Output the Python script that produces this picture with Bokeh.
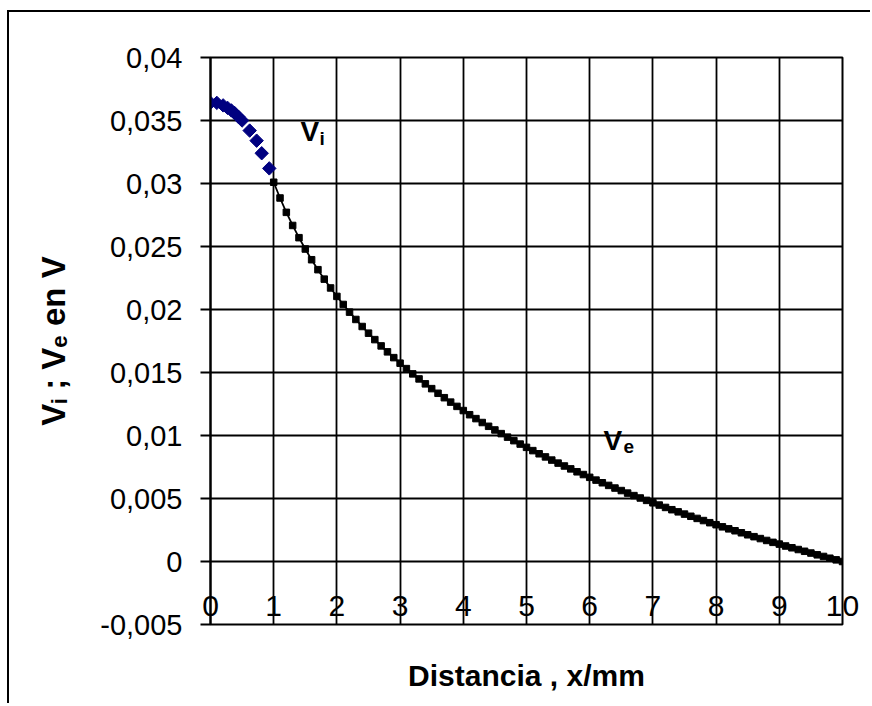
import numpy as np
from bokeh.plotting import figure
from bokeh.models import FixedTicker, Label, Range1d
from bokeh.embed import file_html
from bokeh.resources import INLINE

# ---------------- data ----------------
vi_x = [0.0, 0.1, 0.2, 0.27, 0.33, 0.38, 0.44, 0.5, 0.62, 0.73, 0.81, 0.93]
vi_y = [0.0364, 0.0364, 0.0362, 0.0360, 0.0358, 0.0356, 0.0353, 0.0350,
        0.0342, 0.0334, 0.0324, 0.0312]

ve_x = [1.0, 1.1, 1.2, 1.3, 1.4, 1.5, 1.6, 1.7, 1.8, 1.9,
        2.0, 2.1, 2.2, 2.3, 2.4, 2.5, 2.6, 2.7, 2.8, 2.9,
        3.0, 3.1, 3.2, 3.3, 3.4, 3.5, 3.6, 3.7, 3.8, 3.9,
        4.0, 4.1, 4.2, 4.3, 4.4, 4.5, 4.6, 4.7, 4.8, 4.9,
        5.0, 5.1, 5.2, 5.3, 5.4, 5.5, 5.6, 5.7, 5.8, 5.9,
        6.0, 6.1, 6.2, 6.3, 6.4, 6.5, 6.6, 6.7, 6.8, 6.9,
        7.0, 7.1, 7.2, 7.3, 7.4, 7.5, 7.6, 7.7, 7.8, 7.9,
        8.0, 8.1, 8.2, 8.3, 8.4, 8.5, 8.6, 8.7, 8.8, 8.9,
        9.0, 9.1, 9.2, 9.3, 9.4, 9.5, 9.6, 9.7, 9.8, 9.9, 10.0]
ve_y = [0.0301, 0.02885, 0.02771, 0.02667, 0.0257, 0.0248, 0.02395, 0.02316, 0.02241, 0.02171,
        0.02104, 0.0204, 0.01979, 0.01921, 0.01865, 0.01812, 0.01761, 0.01711, 0.01664, 0.01618,
        0.01574, 0.01531, 0.01489, 0.01449, 0.0141, 0.01372, 0.01335, 0.013, 0.01265, 0.01231,
        0.01198, 0.01165, 0.01134, 0.01103, 0.01073, 0.01044, 0.01015, 0.00987, 0.00959, 0.00932,
        0.00906, 0.0088, 0.00855, 0.0083, 0.00805, 0.00781, 0.00758, 0.00735, 0.00712, 0.0069,
        0.00668, 0.00646, 0.00625, 0.00604, 0.00583, 0.00563, 0.00543, 0.00523, 0.00504, 0.00485,
        0.00466, 0.00448, 0.00429, 0.00411, 0.00394, 0.00376, 0.00359, 0.00342, 0.00325, 0.00308,
        0.00292, 0.00275, 0.00259, 0.00244, 0.00228, 0.00212, 0.00197, 0.00182, 0.00167, 0.00152,
        0.00138, 0.00123, 0.00109, 0.00095, 0.00081, 0.00067, 0.00053, 0.0004, 0.00026, 0.00013, 0.0]

x_ticks = [0, 1, 2, 3, 4, 5, 6, 7, 8, 9, 10]
x_tick_labels = ["0", "1", "2", "3", "4", "5", "6", "7", "8", "9", "10"]
y_ticks = [-0.005, 0, 0.005, 0.01, 0.015, 0.02, 0.025, 0.03, 0.035, 0.04]
y_tick_labels = ["-0,005", "0", "0,005", "0,01", "0,015", "0,02", "0,025", "0,03", "0,035", "0,04"]

x_title = "Distancia , x/mm"
y_title = "V\u1d62 ; V\u2091 en V"

# ---------------- layout / style ----------------
X0, X1 = 0, 10
Y0, Y1 = -0.005, 0.04
FRAME_L, FRAME_R, FRAME_T, FRAME_B = 210, 842, 57, 624   # page pixels
FONT = "Liberation Sans"

def dx(px):
    return X0 + (px - FRAME_L) / (FRAME_R - FRAME_L) * (X1 - X0)

def dy(py):
    return Y0 + (FRAME_B - py) / (FRAME_B - FRAME_T) * (Y1 - Y0)

# canvas starts at page (9, 12)
p = figure(width=863, height=693,
           x_range=Range1d(X0, X1), y_range=Range1d(Y0, Y1),
           output_backend="svg", toolbar_location=None,
           min_border_left=201, min_border_right=30,
           min_border_top=45, min_border_bottom=81)
p.styles = {"border-left": "2px solid black", "border-top": "2px solid black",
            "margin-left": "7px", "margin-top": "10px"}
p.background_fill_color = "white"
p.border_fill_color = "white"
p.outline_line_color = "black"
p.outline_line_width = 2

# grid
p.xgrid.ticker = FixedTicker(ticks=x_ticks)
p.ygrid.ticker = FixedTicker(ticks=y_ticks)
for g in (p.xgrid, p.ygrid):
    g.grid_line_color = "black"
    g.grid_line_width = 1.8
    g.grid_line_alpha = 1.0

# y axis
p.yaxis.ticker = FixedTicker(ticks=y_ticks)
p.yaxis.major_label_overrides = {t: l for t, l in zip(y_ticks, y_tick_labels)}
p.yaxis.major_label_text_font = FONT
p.yaxis.major_label_text_font_size = "29px"
p.yaxis.major_label_text_color = "black"
p.yaxis.major_tick_out = 10
p.yaxis.major_tick_in = 0
p.yaxis.minor_tick_line_color = None
p.yaxis.axis_line_width = 2
p.yaxis.major_tick_line_width = 2
p.yaxis.axis_line_color = "black"
p.yaxis.major_tick_line_color = "black"
p.yaxis.major_label_standoff = 18
p.yaxis.axis_label = y_title
p.yaxis.axis_label_text_font = FONT
p.yaxis.axis_label_text_font_size = "33px"
p.yaxis.axis_label_text_font_style = "bold"
p.yaxis.axis_label_text_color = "black"
p.yaxis.axis_label_standoff = 25

# x axis: labels sit just under the zero line, as in the original
p.xaxis.ticker = FixedTicker(ticks=x_ticks)
p.xaxis.major_label_overrides = {t: l for t, l in zip(x_ticks, x_tick_labels)}
p.xaxis.major_label_text_font = FONT
p.xaxis.major_label_text_font_size = "30px"
p.xaxis.major_label_text_color = "black"
p.xaxis.major_label_standoff = -29
p.xaxis.major_tick_out = 0
p.xaxis.major_tick_in = 0
p.xaxis.axis_line_color = None
p.xaxis.major_tick_line_color = None
p.xaxis.minor_tick_line_color = None
p.xaxis.axis_label = x_title
p.xaxis.axis_label_text_font = FONT
p.xaxis.axis_label_text_font_size = "30px"
p.xaxis.axis_label_text_font_style = "bold"
p.xaxis.axis_label_text_color = "black"
p.xaxis.axis_label_standoff = 40

# data
p.line(ve_x, ve_y, line_color="black", line_width=1.8)
p.scatter(ve_x, ve_y, marker="square", size=6.5, fill_color="black", line_color="black")
p.scatter(vi_x, vi_y, marker="square", angle=np.pi / 4, size=9.5,
          fill_color="#000080", line_color="#000080")

# series labels V_i and V_e
def add_text(x, y, text, size):
    p.add_layout(Label(x=x, y=y, text=text,
                       text_font=FONT, text_font_size=f"{size}px",
                       text_font_style="bold", text_color="black",
                       text_align="left", text_baseline="alphabetic"))

add_text(dx(300), dy(131), "V", 28)
add_text(dx(319), dy(138), "i", 19)
add_text(dx(603), dy(440), "V", 28)
add_text(dx(623), dy(446), "e", 19)

open("out.html", "w").write(file_html(p, INLINE))
